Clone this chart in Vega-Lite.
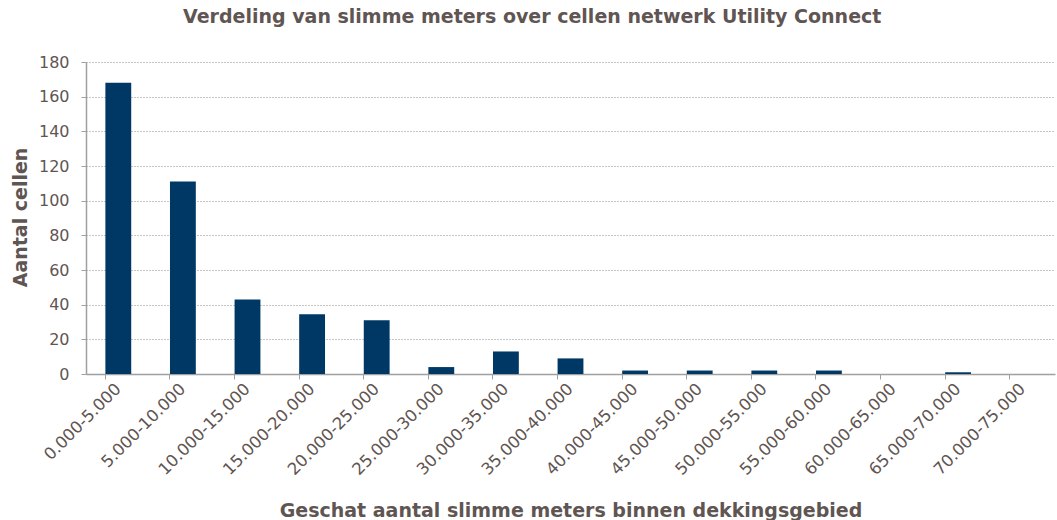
{
  "$schema": "https://vega.github.io/schema/vega-lite/v6.json",
  "width": 969,
  "height": 312,
  "autosize": "none",
  "padding": {"left": 86, "top": 62, "right": 2, "bottom": 146},
  "background": "white",
  "title": {
    "text": "Verdeling van slimme meters over cellen netwerk Utility Connect",
    "font": "DejaVu Sans",
    "fontSize": 19,
    "fontWeight": "bold",
    "color": "#5f5552",
    "anchor": "start",
    "dx": 172,
    "offset": 27
  },
  "data": {
    "values": [
      {"klasse": "0.000-5.000", "aantal": 168},
      {"klasse": "5.000-10.000", "aantal": 111},
      {"klasse": "10.000-15.000", "aantal": 43},
      {"klasse": "15.000-20.000", "aantal": 34.5},
      {"klasse": "20.000-25.000", "aantal": 31},
      {"klasse": "25.000-30.000", "aantal": 4},
      {"klasse": "30.000-35.000", "aantal": 13},
      {"klasse": "35.000-40.000", "aantal": 9},
      {"klasse": "40.000-45.000", "aantal": 2},
      {"klasse": "45.000-50.000", "aantal": 2},
      {"klasse": "50.000-55.000", "aantal": 2},
      {"klasse": "55.000-60.000", "aantal": 2},
      {"klasse": "60.000-65.000", "aantal": 0},
      {"klasse": "65.000-70.000", "aantal": 1},
      {"klasse": "70.000-75.000", "aantal": 0}
    ]
  },
  "mark": {"type": "bar", "color": "#003865"},
  "encoding": {
    "x": {
      "field": "klasse",
      "type": "nominal",
      "sort": null,
      "scale": {"paddingInner": 0.6, "paddingOuter": 0.3},
      "axis": {
        "title": "Geschat aantal slimme meters binnen dekkingsgebied",
        "titleFont": "DejaVu Sans",
        "titleFontSize": 19,
        "titleFontWeight": "bold",
        "titleColor": "#5f5552",
        "titleY": 142,
        "titleBaseline": "alphabetic",
        "labelAngle": -45,
        "labelAlign": "right",
        "labelBaseline": "middle",
        "labelFont": "DejaVu Sans",
        "labelFontSize": 16.5,
        "labelColor": "#5f5552",
        "labelPadding": 7,
        "bandPosition": 0,
        "ticks": true,
        "tickSize": 5,
        "tickColor": "#a0a0a0",
        "domainColor": "#a0a0a0",
        "domainWidth": 1.5,
        "grid": false
      }
    },
    "y": {
      "field": "aantal",
      "type": "quantitative",
      "scale": {"domain": [0, 180], "nice": false},
      "axis": {
        "title": "Aantal cellen",
        "titleFont": "DejaVu Sans",
        "titleFontSize": 19,
        "titleFontWeight": "bold",
        "titleColor": "#5f5552",
        "titleX": -60,
        "titleY": 155,
        "titleBaseline": "alphabetic",
        "values": [0, 20, 40, 60, 80, 100, 120, 140, 160, 180],
        "labelFont": "DejaVu Sans",
        "labelFontSize": 16,
        "labelColor": "#5f5552",
        "labelPadding": 12,
        "tickSize": 5,
        "tickColor": "#a0a0a0",
        "domainColor": "#a0a0a0",
        "domainWidth": 1.5,
        "grid": true,
        "gridColor": "#8c8c8c",
        "gridDash": [1, 2],
        "gridWidth": 1
      }
    }
  },
  "config": {"view": {"stroke": null}}
}
